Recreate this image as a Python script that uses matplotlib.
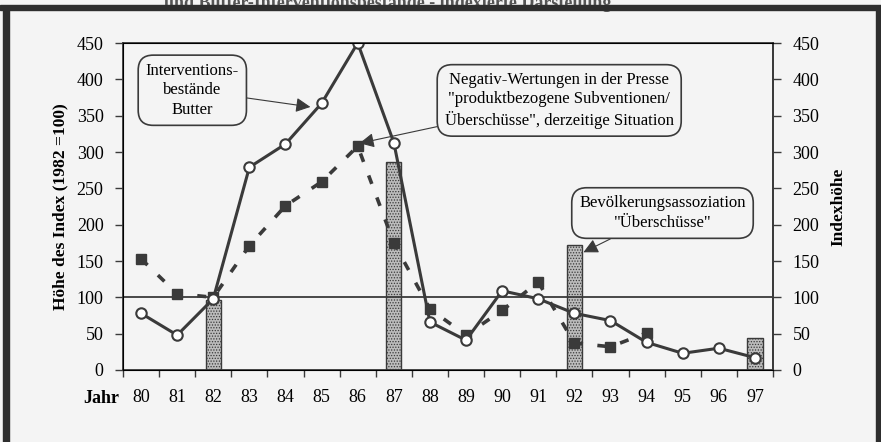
import numpy as np
import matplotlib.pyplot as plt
from matplotlib.patches import Rectangle

plt.rcParams['font.family'] = ['Liberation Serif', 'DejaVu Serif']
plt.rcParams['hatch.linewidth'] = 0.6

# data (index 1982 = 100)
years = ['80', '81', '82', '83', '84', '85', '86', '87', '88',
         '89', '90', '91', '92', '93', '94', '95', '96', '97']
butter = [78, 48, 98, 279, 311, 367, 450, 313, 66,
          41, 109, 98, 78, 68, 38, 23, 30, 17]
presse = [153, 105, 100, 171, 226, 259, 308, 175, 84,
          48, 82, 121, 37, 32, 51]
bar_years = ['82', '87', '92', '97']
bar_values = [97, 286, 172, 44]
yticks = [0, 50, 100, 150, 200, 250, 300, 350, 400, 450]

bg = '#f4f4f4'
ink = '#3a3a3a'

fig = plt.figure(figsize=(8.81, 4.42), dpi=100, facecolor=bg)
ax = fig.add_axes([0.1396, 0.1629, 0.7378, 0.7398], facecolor=bg)

x = np.arange(len(years))
bx = [years.index(y) for y in bar_years]
ax.bar(bx, bar_values, width=0.42, color='#bcbcbc', edgecolor=ink,
       hatch='......', linewidth=1.0, zorder=2)

ax.axhline(100, color=ink, lw=1.3, zorder=3)

ax.plot(x[:len(presse)], presse, color=ink, lw=2.6, ls=(0, (2.5, 4)),
        marker='s', ms=7, mfc=ink, mec=ink, zorder=4)
ax.plot(x, butter, color=ink, lw=2.2, marker='o', ms=7.5, mfc='white',
        mec=ink, mew=1.5, zorder=5)

ax.set_xlim(-0.5, len(years) - 0.5)
ax.set_ylim(0, 450)
ax.set_xticks(np.arange(-0.5, len(years)), minor=False)
ax.set_xticklabels([])
ax.set_xticks(x, minor=True)
ax.set_xticklabels(years, minor=True)
ax.tick_params(axis='x', which='major', direction='out', length=5,
               width=1, color=ink)
ax.tick_params(axis='x', which='minor', length=0, pad=14, labelsize=13)
ax.set_yticks(yticks)
ax.tick_params(axis='y', direction='out', length=6, width=1, color=ink,
               labelsize=13, pad=8)
for s in ax.spines.values():
    s.set_color(ink)
    s.set_linewidth(1.3)
ax.set_ylabel('Höhe des Index (1982 =100)', fontsize=12.5,
              fontweight='bold', labelpad=6)
ax.text(-0.006, -0.087, 'Jahr', transform=ax.transAxes, ha='right',
        va='center', fontsize=13, fontweight='bold')

ax2 = ax.twinx()
ax2.set_ylim(0, 450)
ax2.set_yticks(yticks)
ax2.tick_params(axis='y', direction='out', length=6, width=1, color=ink,
                labelsize=13, pad=8)
ax2.spines['right'].set_color(ink)
ax2.spines['right'].set_linewidth(1.3)
ax2.set_ylabel('Indexhöhe', fontsize=12.5, fontweight='bold', labelpad=8)

box = dict(boxstyle='round,pad=0.45,rounding_size=0.9', fc=bg, ec=ink, lw=1.2)
arrow = dict(arrowstyle='-|>', color=ink, lw=0.8, mutation_scale=22,
             shrinkA=0, shrinkB=0)

ax.annotate('Interventions-\nbestände\nButter', xy=(4.69, 362),
            xytext=(1.42, 385), ha='center', va='center', fontsize=12,
            linespacing=1.3, bbox=box, arrowprops=arrow, zorder=6)
ax.annotate('Negativ-Wertungen in der Presse\n"produktbezogene Subventionen/\n'
            'Überschüsse", derzeitige Situation',
            xy=(6.05, 312), xytext=(11.58, 371), ha='center', va='center',
            fontsize=12, linespacing=1.25, bbox=box, arrowprops=arrow, zorder=6)
ax.annotate('Bevölkerungsassoziation\n"Überschüsse"', xy=(12.25, 162),
            xytext=(14.44, 216), ha='center', va='center', fontsize=12,
            linespacing=1.3, bbox=box, arrowprops=arrow, zorder=6)

# scan frame; caption of the page above is mostly cut off by the crop
fig.patches.append(Rectangle((0, 0.977), 1, 0.012, transform=fig.transFigure,
                             color='#2e2e2e', zorder=5))
fig.patches.append(Rectangle((0.003, 0), 0.007, 0.985, transform=fig.transFigure,
                             color='#2e2e2e', zorder=5))
fig.patches.append(Rectangle((0.994, 0), 0.006, 0.985, transform=fig.transFigure,
                             color='#2e2e2e', zorder=5))
fig.text(0.44, 0.992, 'und Butter-Interventionsbestände - indexierte Darstellung',
         ha='center', va='center', fontsize=13, fontweight='bold', color='#555',
         zorder=1)

fig.savefig('out.png', dpi=100, facecolor=bg)
